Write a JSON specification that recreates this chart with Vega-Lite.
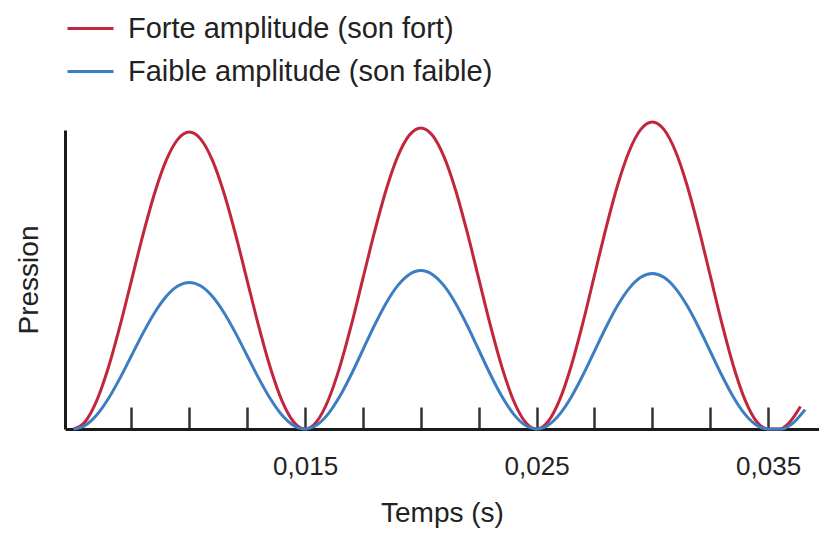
{
  "$schema": "https://vega.github.io/schema/vega-lite/v6.json",
  "width": 754,
  "height": 299,
  "autosize": {"type": "none"},
  "padding": {"left": 65, "top": 130, "right": 0, "bottom": 104},
  "background": "white",
  "config": {
    "font": "Liberation Sans",
    "view": {"stroke": null},
    "text": {"color": "#222"}
  },
  "data": {
    "values": [
      {"t": 0.005, "p": 0, "serie": "Forte amplitude (son fort)"},
      {"t": 0.0055, "p": 0.0243, "serie": "Forte amplitude (son fort)"},
      {"t": 0.006, "p": 0.0948, "serie": "Forte amplitude (son fort)"},
      {"t": 0.0065, "p": 0.2047, "serie": "Forte amplitude (son fort)"},
      {"t": 0.007, "p": 0.3431, "serie": "Forte amplitude (son fort)"},
      {"t": 0.0075, "p": 0.4965, "serie": "Forte amplitude (son fort)"},
      {"t": 0.008, "p": 0.6499, "serie": "Forte amplitude (son fort)"},
      {"t": 0.0085, "p": 0.7883, "serie": "Forte amplitude (son fort)"},
      {"t": 0.009, "p": 0.8982, "serie": "Forte amplitude (son fort)"},
      {"t": 0.0095, "p": 0.9687, "serie": "Forte amplitude (son fort)"},
      {"t": 0.01, "p": 0.993, "serie": "Forte amplitude (son fort)"},
      {"t": 0.0105, "p": 0.9687, "serie": "Forte amplitude (son fort)"},
      {"t": 0.011, "p": 0.8982, "serie": "Forte amplitude (son fort)"},
      {"t": 0.0115, "p": 0.7883, "serie": "Forte amplitude (son fort)"},
      {"t": 0.012, "p": 0.6499, "serie": "Forte amplitude (son fort)"},
      {"t": 0.0125, "p": 0.4965, "serie": "Forte amplitude (son fort)"},
      {"t": 0.013, "p": 0.3431, "serie": "Forte amplitude (son fort)"},
      {"t": 0.0135, "p": 0.2047, "serie": "Forte amplitude (son fort)"},
      {"t": 0.014, "p": 0.0948, "serie": "Forte amplitude (son fort)"},
      {"t": 0.0145, "p": 0.0243, "serie": "Forte amplitude (son fort)"},
      {"t": 0.015, "p": 0, "serie": "Forte amplitude (son fort)"},
      {"t": 0.0155, "p": 0.0246, "serie": "Forte amplitude (son fort)"},
      {"t": 0.016, "p": 0.0962, "serie": "Forte amplitude (son fort)"},
      {"t": 0.0165, "p": 0.2076, "serie": "Forte amplitude (son fort)"},
      {"t": 0.017, "p": 0.3479, "serie": "Forte amplitude (son fort)"},
      {"t": 0.0175, "p": 0.5035, "serie": "Forte amplitude (son fort)"},
      {"t": 0.018, "p": 0.6591, "serie": "Forte amplitude (son fort)"},
      {"t": 0.0185, "p": 0.7995, "serie": "Forte amplitude (son fort)"},
      {"t": 0.019, "p": 0.9108, "serie": "Forte amplitude (son fort)"},
      {"t": 0.0195, "p": 0.9824, "serie": "Forte amplitude (son fort)"},
      {"t": 0.02, "p": 1.007, "serie": "Forte amplitude (son fort)"},
      {"t": 0.0205, "p": 0.9824, "serie": "Forte amplitude (son fort)"},
      {"t": 0.021, "p": 0.9108, "serie": "Forte amplitude (son fort)"},
      {"t": 0.0215, "p": 0.7995, "serie": "Forte amplitude (son fort)"},
      {"t": 0.022, "p": 0.6591, "serie": "Forte amplitude (son fort)"},
      {"t": 0.0225, "p": 0.5035, "serie": "Forte amplitude (son fort)"},
      {"t": 0.023, "p": 0.3479, "serie": "Forte amplitude (son fort)"},
      {"t": 0.0235, "p": 0.2076, "serie": "Forte amplitude (son fort)"},
      {"t": 0.024, "p": 0.0962, "serie": "Forte amplitude (son fort)"},
      {"t": 0.0245, "p": 0.0246, "serie": "Forte amplitude (son fort)"},
      {"t": 0.025, "p": 0, "serie": "Forte amplitude (son fort)"},
      {"t": 0.0255, "p": 0.0251, "serie": "Forte amplitude (son fort)"},
      {"t": 0.026, "p": 0.0981, "serie": "Forte amplitude (son fort)"},
      {"t": 0.0265, "p": 0.2117, "serie": "Forte amplitude (son fort)"},
      {"t": 0.027, "p": 0.3548, "serie": "Forte amplitude (son fort)"},
      {"t": 0.0275, "p": 0.5135, "serie": "Forte amplitude (son fort)"},
      {"t": 0.028, "p": 0.6722, "serie": "Forte amplitude (son fort)"},
      {"t": 0.0285, "p": 0.8153, "serie": "Forte amplitude (son fort)"},
      {"t": 0.029, "p": 0.9289, "serie": "Forte amplitude (son fort)"},
      {"t": 0.0295, "p": 1.0019, "serie": "Forte amplitude (son fort)"},
      {"t": 0.03, "p": 1.027, "serie": "Forte amplitude (son fort)"},
      {"t": 0.0305, "p": 1.0019, "serie": "Forte amplitude (son fort)"},
      {"t": 0.031, "p": 0.9289, "serie": "Forte amplitude (son fort)"},
      {"t": 0.0315, "p": 0.8153, "serie": "Forte amplitude (son fort)"},
      {"t": 0.032, "p": 0.6722, "serie": "Forte amplitude (son fort)"},
      {"t": 0.0325, "p": 0.5135, "serie": "Forte amplitude (son fort)"},
      {"t": 0.033, "p": 0.3548, "serie": "Forte amplitude (son fort)"},
      {"t": 0.0335, "p": 0.2117, "serie": "Forte amplitude (son fort)"},
      {"t": 0.034, "p": 0.0981, "serie": "Forte amplitude (son fort)"},
      {"t": 0.0345, "p": 0.0251, "serie": "Forte amplitude (son fort)"},
      {"t": 0.035, "p": 0, "serie": "Forte amplitude (son fort)"},
      {"t": 0.0355, "p": 0, "serie": "Forte amplitude (son fort)"},
      {"t": 0.0359, "p": 0.02, "serie": "Forte amplitude (son fort)"},
      {"t": 0.0364, "p": 0.075, "serie": "Forte amplitude (son fort)"},
      {"t": 0.005, "p": 0, "serie": "Faible amplitude (son faible)"},
      {"t": 0.0055, "p": 0.012, "serie": "Faible amplitude (son faible)"},
      {"t": 0.006, "p": 0.0468, "serie": "Faible amplitude (son faible)"},
      {"t": 0.0065, "p": 0.101, "serie": "Faible amplitude (son faible)"},
      {"t": 0.007, "p": 0.1693, "serie": "Faible amplitude (son faible)"},
      {"t": 0.0075, "p": 0.245, "serie": "Faible amplitude (son faible)"},
      {"t": 0.008, "p": 0.3207, "serie": "Faible amplitude (son faible)"},
      {"t": 0.0085, "p": 0.389, "serie": "Faible amplitude (son faible)"},
      {"t": 0.009, "p": 0.4432, "serie": "Faible amplitude (son faible)"},
      {"t": 0.0095, "p": 0.478, "serie": "Faible amplitude (son faible)"},
      {"t": 0.01, "p": 0.49, "serie": "Faible amplitude (son faible)"},
      {"t": 0.0105, "p": 0.478, "serie": "Faible amplitude (son faible)"},
      {"t": 0.011, "p": 0.4432, "serie": "Faible amplitude (son faible)"},
      {"t": 0.0115, "p": 0.389, "serie": "Faible amplitude (son faible)"},
      {"t": 0.012, "p": 0.3207, "serie": "Faible amplitude (son faible)"},
      {"t": 0.0125, "p": 0.245, "serie": "Faible amplitude (son faible)"},
      {"t": 0.013, "p": 0.1693, "serie": "Faible amplitude (son faible)"},
      {"t": 0.0135, "p": 0.101, "serie": "Faible amplitude (son faible)"},
      {"t": 0.014, "p": 0.0468, "serie": "Faible amplitude (son faible)"},
      {"t": 0.0145, "p": 0.012, "serie": "Faible amplitude (son faible)"},
      {"t": 0.015, "p": 0, "serie": "Faible amplitude (son faible)"},
      {"t": 0.0155, "p": 0.013, "serie": "Faible amplitude (son faible)"},
      {"t": 0.016, "p": 0.0506, "serie": "Faible amplitude (son faible)"},
      {"t": 0.0165, "p": 0.1092, "serie": "Faible amplitude (son faible)"},
      {"t": 0.017, "p": 0.1831, "serie": "Faible amplitude (son faible)"},
      {"t": 0.0175, "p": 0.265, "serie": "Faible amplitude (son faible)"},
      {"t": 0.018, "p": 0.3469, "serie": "Faible amplitude (son faible)"},
      {"t": 0.0185, "p": 0.4208, "serie": "Faible amplitude (son faible)"},
      {"t": 0.019, "p": 0.4794, "serie": "Faible amplitude (son faible)"},
      {"t": 0.0195, "p": 0.517, "serie": "Faible amplitude (son faible)"},
      {"t": 0.02, "p": 0.53, "serie": "Faible amplitude (son faible)"},
      {"t": 0.0205, "p": 0.517, "serie": "Faible amplitude (son faible)"},
      {"t": 0.021, "p": 0.4794, "serie": "Faible amplitude (son faible)"},
      {"t": 0.0215, "p": 0.4208, "serie": "Faible amplitude (son faible)"},
      {"t": 0.022, "p": 0.3469, "serie": "Faible amplitude (son faible)"},
      {"t": 0.0225, "p": 0.265, "serie": "Faible amplitude (son faible)"},
      {"t": 0.023, "p": 0.1831, "serie": "Faible amplitude (son faible)"},
      {"t": 0.0235, "p": 0.1092, "serie": "Faible amplitude (son faible)"},
      {"t": 0.024, "p": 0.0506, "serie": "Faible amplitude (son faible)"},
      {"t": 0.0245, "p": 0.013, "serie": "Faible amplitude (son faible)"},
      {"t": 0.025, "p": 0, "serie": "Faible amplitude (son faible)"},
      {"t": 0.0255, "p": 0.0127, "serie": "Faible amplitude (son faible)"},
      {"t": 0.026, "p": 0.0497, "serie": "Faible amplitude (son faible)"},
      {"t": 0.0265, "p": 0.1072, "serie": "Faible amplitude (son faible)"},
      {"t": 0.027, "p": 0.1797, "serie": "Faible amplitude (son faible)"},
      {"t": 0.0275, "p": 0.26, "serie": "Faible amplitude (son faible)"},
      {"t": 0.028, "p": 0.3403, "serie": "Faible amplitude (son faible)"},
      {"t": 0.0285, "p": 0.4128, "serie": "Faible amplitude (son faible)"},
      {"t": 0.029, "p": 0.4703, "serie": "Faible amplitude (son faible)"},
      {"t": 0.0295, "p": 0.5073, "serie": "Faible amplitude (son faible)"},
      {"t": 0.03, "p": 0.52, "serie": "Faible amplitude (son faible)"},
      {"t": 0.0305, "p": 0.5073, "serie": "Faible amplitude (son faible)"},
      {"t": 0.031, "p": 0.4703, "serie": "Faible amplitude (son faible)"},
      {"t": 0.0315, "p": 0.4128, "serie": "Faible amplitude (son faible)"},
      {"t": 0.032, "p": 0.3403, "serie": "Faible amplitude (son faible)"},
      {"t": 0.0325, "p": 0.26, "serie": "Faible amplitude (son faible)"},
      {"t": 0.033, "p": 0.1797, "serie": "Faible amplitude (son faible)"},
      {"t": 0.0335, "p": 0.1072, "serie": "Faible amplitude (son faible)"},
      {"t": 0.034, "p": 0.0497, "serie": "Faible amplitude (son faible)"},
      {"t": 0.0345, "p": 0.0127, "serie": "Faible amplitude (son faible)"},
      {"t": 0.035, "p": 0, "serie": "Faible amplitude (son faible)"},
      {"t": 0.0356, "p": 0, "serie": "Faible amplitude (son faible)"},
      {"t": 0.036, "p": 0.015, "serie": "Faible amplitude (son faible)"},
      {"t": 0.0366, "p": 0.065, "serie": "Faible amplitude (son faible)"}
    ]
  },
  "mark": {"type": "line", "interpolate": "monotone", "strokeWidth": 3, "clip": false},
  "encoding": {
    "x": {
      "field": "t",
      "type": "quantitative",
      "scale": {"domain": [0.00463, 0.0372], "nice": false, "zero": false},
      "axis": {
        "title": "Temps (s)",
        "values": [0.0075, 0.01, 0.0125, 0.015, 0.0175, 0.02, 0.0225, 0.025, 0.0275, 0.03, 0.0325, 0.035],
        "labelExpr": "indexof([0.015, 0.025, 0.035], datum.value) >= 0 ? replace(format(datum.value, '.3f'), '.', ',') : ''",
        "tickSize": -22,
        "tickWidth": 2.5,
        "tickColor": "#333",
        "domainColor": "#1a1a1a",
        "domainWidth": 3,
        "grid": false,
        "labelFontSize": 26,
        "labelColor": "#222",
        "labelPadding": 46,
        "labelDx": -5,
        "labelFlush": false,
        "labelOverlap": false,
        "titleFontSize": 28,
        "titleFontWeight": "normal",
        "titleColor": "#222",
        "titlePadding": 20
      }
    },
    "y": {
      "field": "p",
      "type": "quantitative",
      "scale": {"domain": [0, 1], "nice": false, "zero": false},
      "axis": {
        "title": "Pression",
        "ticks": false,
        "labels": false,
        "grid": false,
        "domainColor": "#1a1a1a",
        "domainWidth": 3,
        "titleFontSize": 28,
        "titleFontWeight": "normal",
        "titleColor": "#222",
        "titlePadding": 22
      }
    },
    "color": {
      "field": "serie",
      "type": "nominal",
      "scale": {
        "domain": ["Forte amplitude (son fort)", "Faible amplitude (son faible)"],
        "range": ["#c2263c", "#3d7ec2"]
      },
      "legend": {
        "orient": "none",
        "legendX": 1,
        "legendY": -126,
        "title": null,
        "symbolType": "stroke",
        "symbolSize": 2116,
        "symbolStrokeWidth": 3,
        "labelFontSize": 29,
        "labelColor": "#222",
        "labelOffset": 13,
        "labelLimit": 600,
        "rowPadding": 3
      }
    }
  }
}
